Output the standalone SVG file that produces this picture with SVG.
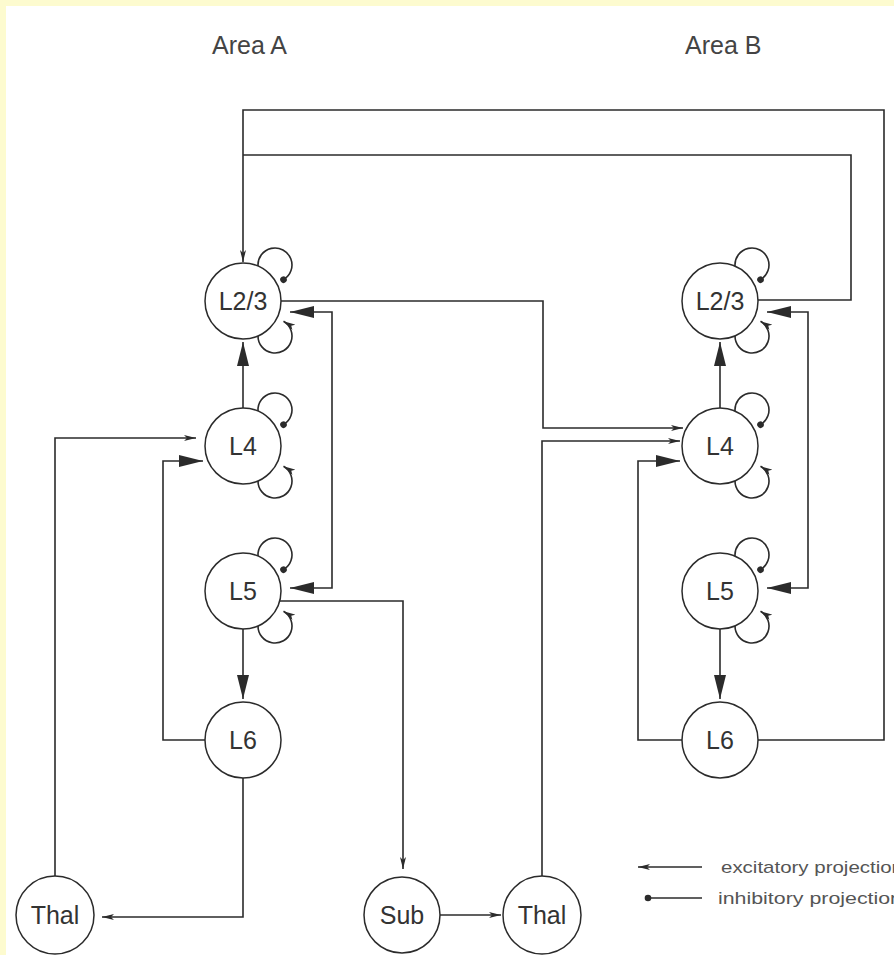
<svg xmlns="http://www.w3.org/2000/svg" xmlns:xlink="http://www.w3.org/1999/xlink" width="894" height="955" viewBox="0 0 894 955">
<style>
.bg{fill:#ffffff}
.frame{fill:#fdfbcf}
.wire{fill:none;stroke:#2b2b2b;stroke-width:1.6}
.node{fill:#ffffff;stroke:#2b2b2b;stroke-width:1.5}
.lbl{font-family:"Liberation Sans",Arial,sans-serif;font-size:25px;fill:#333;text-anchor:middle;dominant-baseline:central}
.area{font-family:"Liberation Sans",Arial,sans-serif;font-size:25px;fill:#444}
.leg{font-family:"Liberation Sans",Arial,sans-serif;font-size:17px;fill:#555}
</style>
<defs>
<marker id="big" viewBox="0 0 24 12" refX="24" refY="6" markerWidth="24" markerHeight="12" orient="auto-start-reverse" markerUnits="userSpaceOnUse"><path d="M0,0 L24,6 L0,12 Z" fill="#2b2b2b"/></marker>
<marker id="small" viewBox="0 0 12 6" refX="12" refY="3" markerWidth="12" markerHeight="6" orient="auto" markerUnits="userSpaceOnUse"><path d="M0,0 L12,3 L0,6 L3,3 Z" fill="#2b2b2b"/></marker>
<marker id="dot" viewBox="0 0 8 8" refX="4" refY="4" markerWidth="8" markerHeight="8" orient="auto" markerUnits="userSpaceOnUse"><circle cx="4" cy="4" r="3.3" fill="#2b2b2b"/></marker>
<g id="loops">
<path class="wire" d="M15,-34.9 A17,17 0 1 1 40.5,-21.3" marker-end="url(#dot)"/>
<path class="wire" d="M15,34.9 A17,17 0 1 0 40.5,20.3" marker-end="url(#small)"/>
</g>
</defs>
<rect class="bg" x="0" y="0" width="894" height="955"/>
<rect class="frame" x="0" y="0" width="894" height="6"/>
<rect class="frame" x="0" y="0" width="6" height="955"/>
<text class="area" x="212" y="54">Area A</text>
<text class="area" x="685" y="54">Area B</text>
<g id="connectors">
<use xlink:href="#loops" x="243" y="301"/>
<use xlink:href="#loops" x="243" y="446"/>
<use xlink:href="#loops" x="243" y="591"/>
<use xlink:href="#loops" x="720" y="301"/>
<use xlink:href="#loops" x="720" y="446"/>
<use xlink:href="#loops" x="720" y="591"/>
<path class="wire" d="M243,408 V342" marker-end="url(#big)"/>
<path class="wire" d="M243,629 V699" marker-end="url(#big)"/>
<path class="wire" d="M205,740 H163 V461 H203" marker-end="url(#big)"/>
<path class="wire" d="M290,312 H332 V588 H290" marker-start="url(#big)" marker-end="url(#big)"/>
<path class="wire" d="M55,876 V438 H196" marker-end="url(#small)"/>
<path class="wire" d="M243,778 V917 H102" marker-end="url(#small)"/>
<path class="wire" d="M279,601 H403 V869" marker-end="url(#small)"/>
<path class="wire" d="M440,915 H501" marker-end="url(#small)"/>
<path class="wire" d="M542,877 V441 H680" marker-end="url(#small)"/>
<path class="wire" d="M281,301 H543 V428 H683" marker-end="url(#small)"/>
<path class="wire" d="M720,408 V342" marker-end="url(#big)"/>
<path class="wire" d="M720,629 V699" marker-end="url(#big)"/>
<path class="wire" d="M682,740 H638 V461 H680" marker-end="url(#big)"/>
<path class="wire" d="M767,312 H808 V588 H767" marker-start="url(#big)" marker-end="url(#big)"/>
<path class="wire" d="M758,300 H851 V155 H243"/>
<path class="wire" d="M758,740 H884 V110 H243 V262" marker-end="url(#small)"/>
</g>
<g id="nodeA23"><circle class="node" cx="243" cy="301" r="38"/><text class="lbl" x="243" y="301">L2/3</text></g>
<g id="nodeA4"><circle class="node" cx="243" cy="446" r="38"/><text class="lbl" x="243" y="446">L4</text></g>
<g id="nodeA5"><circle class="node" cx="243" cy="591" r="38"/><text class="lbl" x="243" y="591">L5</text></g>
<g id="nodeA6"><circle class="node" cx="243" cy="740" r="38"/><text class="lbl" x="243" y="740">L6</text></g>
<g id="nodeB23"><circle class="node" cx="720" cy="301" r="38"/><text class="lbl" x="720" y="301">L2/3</text></g>
<g id="nodeB4"><circle class="node" cx="720" cy="446" r="38"/><text class="lbl" x="720" y="446">L4</text></g>
<g id="nodeB5"><circle class="node" cx="720" cy="591" r="38"/><text class="lbl" x="720" y="591">L5</text></g>
<g id="nodeB6"><circle class="node" cx="720" cy="740" r="38"/><text class="lbl" x="720" y="740">L6</text></g>
<g id="nodeThalA"><circle class="node" cx="55" cy="915" r="39"/><text class="lbl" x="55" y="915">Thal</text></g>
<g id="nodeSub"><circle class="node" cx="402" cy="915" r="38"/><text class="lbl" x="402" y="915">Sub</text></g>
<g id="nodeThalB"><circle class="node" cx="542" cy="915" r="39"/><text class="lbl" x="542" y="915">Thal</text></g>
<g id="legend">
<path class="wire" d="M702,867 H638" marker-end="url(#small)"/>
<path class="wire" d="M702,898 H648" marker-end="url(#dot)"/>
<text class="leg" x="721" y="873" textLength="182" lengthAdjust="spacingAndGlyphs">excitatory projection</text>
<text class="leg" x="718" y="904" textLength="184" lengthAdjust="spacingAndGlyphs">inhibitory projection</text>
</g>
</svg>
